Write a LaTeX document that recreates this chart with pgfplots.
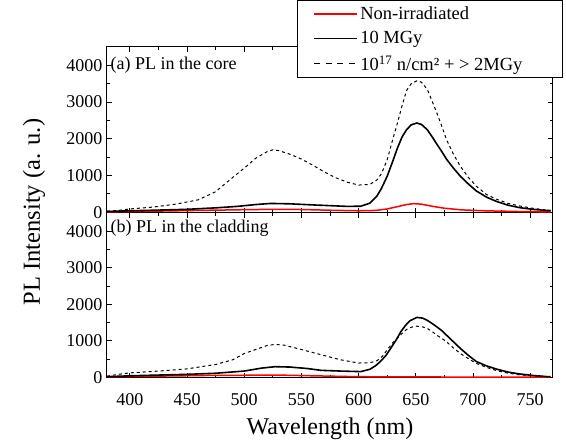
\documentclass[border=0pt]{standalone}
\usepackage{pgfplots}
\pgfplotsset{compat=1.18}
\usepackage{pgfplotstable}
\usepackage{fontspec}
\setmainfont{Liberation Serif}

\pgfplotstableread{
x y
380 30
390 50
400 90
420 140
440 220
460 340
475 560
490 950
500 1200
510 1470
520 1650
525 1700
530 1680
540 1580
550 1450
560 1280
570 1100
580 940
590 820
600 740
610 760
616 880
620 1050
625 1430
630 2000
634 2430
638 2900
642 3320
646 3500
651 3580
655 3540
660 3350
664 3050
668.5 2700
673 2320
677 1970
683 1580
689 1250
696 950
703 710
712 480
721 350
731 240
741 170
752 110
764 60
768 50
}\coreD

\pgfplotstableread{
x y
380 20
400 40
420 55
450 80
475 120
494 160
510 210
523 240
540 230
560 200
575 180
590 160
602 165
610 250
616 440
620 650
625 980
630 1400
634 1750
638 2050
642 2250
646 2380
651 2430
655 2390
660 2250
664 2070
668.5 1850
673 1640
677 1440
683 1200
689 980
696 770
703 580
712 410
721 290
731 190
741 125
752 80
764 50
768 45
}\coreS

\pgfplotstableread{
x y
380 10
400 20
450 45
500 70
525 80
550 75
575 55
600 40
615 50
625 90
635 160
642 210
648 235
655 220
665 160
675 110
690 65
710 40
740 20
768 10
}\coreR

\pgfplotstableread{
x y
380 30
390 80
400 120
425 170
450 230
475 350
490 480
500 650
510 760
520 870
527 900
535 880
550 760
567 620
584 480
600 390
610 400
616 450
621 580
625 750
630 950
634 1070
638 1200
642 1310
646 1370
651 1400
656 1380
660 1340
664 1260
668.5 1150
673 1060
677 970
683 800
689 650
696 510
703 380
712 270
721 180
731 110
741 65
752 40
764 20
768 15
}\cladD

\pgfplotstableread{
x y
380 15
400 40
450 80
475 110
500 170
515 250
527 290
540 280
555 240
567 190
584 170
602 155
610 220
615 320
619 430
624 600
628 790
633 1030
637 1250
641 1420
645 1550
651 1640
656 1620
660 1560
664 1480
668.5 1380
673 1270
677 1150
683 970
689 790
696 600
703 430
712 310
721 220
731 140
741 90
752 50
764 20
768 15
}\cladS

\pgfplotstableread{
x y
380 10
420 30
470 50
500 55
530 60
560 40
600 15
640 10
700 5
768 2
}\cladR

\pgfplotsset{
  panel/.style={
    scale only axis, width=446pt,
    xmin=380, xmax=770, ymin=-20, ymax=4500,
    xtick={400,450,...,750}, minor x tick num=1,
    ytick={0,1000,...,4000}, minor y tick num=1,
    tick align=inside, tick pos=both,
    major tick length=5pt, minor tick length=3pt,
    tick style={black, line width=0.8pt},
    axis line style={line width=1pt},
    tick label style={font=\fontsize{18}{18}\selectfont},
    /pgf/number format/assume math mode=true,
    /pgf/number format/set thousands separator={},
    clip=true,
  },
}

\begin{document}
\begin{tikzpicture}
\path[use as bounding box] (-107pt,-69pt) rectangle (459pt,378pt);

\begin{axis}[panel, height=165pt, at={(0pt,0pt)}, anchor=south west,
  yticklabel style={xshift=-1pt}, xticklabel style={yshift=-12pt}]
\addplot[red, draw=red, line width=1.5pt] table[x=x,y=y] {\cladR};
\addplot[black, line width=1.6pt] table[x=x,y=y] {\cladS};
\addplot[black, line width=1pt, dash pattern=on 3pt off 3pt] table[x=x,y=y] {\cladD};
\node[anchor=west, font=\fontsize{18}{18}\selectfont] at (rel axis cs:0,0.905) {(b) PL in the cladding};
\end{axis}

\begin{axis}[panel, height=166pt, at={(0pt,165pt)}, anchor=south west,
  xticklabels=\empty,
  yticklabel style={xshift=-1pt},
  legend style={at={(0.426,1.283)}, anchor=north west, draw=black, line width=1pt,
    font=\fontsize{18.5}{18.5}\selectfont, row sep=6.5pt, inner xsep=2pt, inner ysep=4pt,
    cells={anchor=west}},
  legend cell align=left,
  legend image code/.code={\path (0pt,0pt); \draw[#1] (14pt,0pt) -- (57pt,0pt);}]
\addplot[red, draw=red, line width=1.5pt, forget plot] table[x=x,y=y] {\coreR};
\addplot[black, line width=1.6pt, forget plot] table[x=x,y=y] {\coreS};
\addplot[black, line width=1pt, dash pattern=on 3pt off 3pt, forget plot] table[x=x,y=y] {\coreD};
\addlegendimage{color=red, draw=red, line width=1.8pt}
\addlegendentry{Non-irradiated}
\addlegendimage{draw=black, line width=1.2pt}
\addlegendentry{10 MGy}
\addlegendimage{draw=black, line width=1pt, dash pattern=on 6pt off 5.5pt}
\addlegendentry{10\textsuperscript{17} n/cm² + > 2MGy\hspace*{36pt}}
\node[anchor=west, font=\fontsize{18}{18}\selectfont] at (rel axis cs:0,0.89) {(a) PL in the core};
\end{axis}

\node[font=\fontsize{24}{24}\selectfont] at (223pt,-51pt) {Wavelength (nm)};
\node[font=\fontsize{24.5}{24.5}\selectfont, rotate=90] at (-73pt,166pt) {PL Intensity (a. u.)};
\end{tikzpicture}
\end{document}
